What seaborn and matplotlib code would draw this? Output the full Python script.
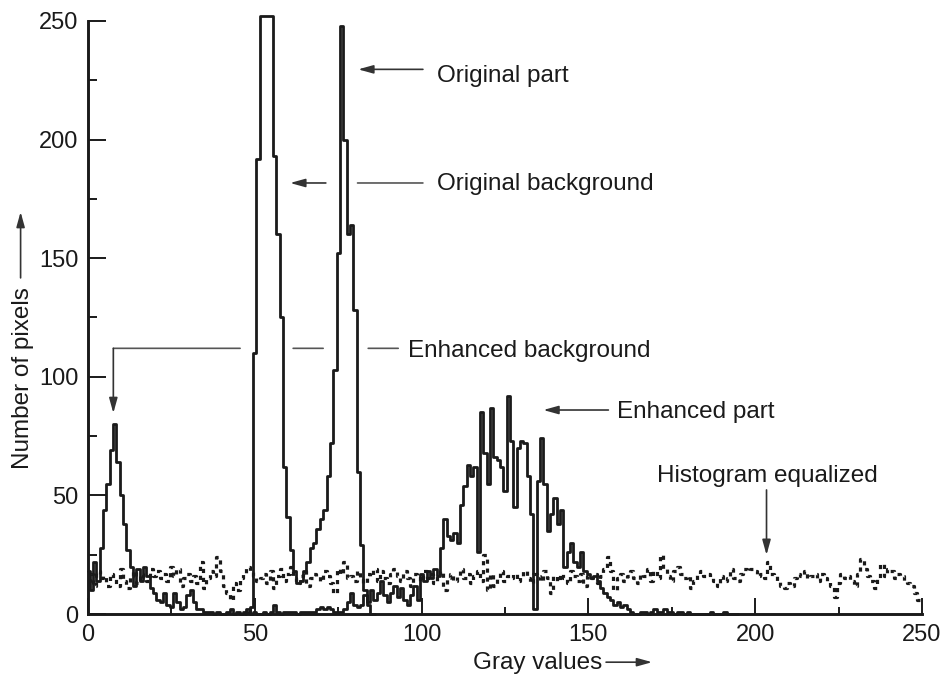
"""
Gray-level histograms: original image vs. enhanced and histogram-equalized.
Values read off the reference figure, one value per gray level.
"""

import numpy as np
import pandas as pd
import matplotlib
matplotlib.use("Agg")
import matplotlib.pyplot as plt
from matplotlib.ticker import MultipleLocator
import seaborn as sns

# --- data -------------------------------------------------------------------
# original histogram (background + part peaks), gray levels 47..86
ORIG_START = 47
orig_counts = [
    0, 1, 3, 110, 192, 252, 252, 252, 252, 193,
    160, 125, 62, 41, 27, 18, 13, 14, 18, 22,
    28, 30, 36, 40, 44, 58, 72, 103, 152, 248,
    200, 160, 164, 128, 60, 29, 10, 4, 0, 0,
]

# contrast-enhanced histogram, gray levels 0..195
ENH_START = 0
enh_counts = [
    18, 10, 22, 14, 28, 44, 55, 69, 80, 64,        # 0-9
    50, 38, 27, 20, 12, 19, 14, 20, 16, 11,        # 10-19
    9, 6, 5, 9, 4, 3, 9, 5, 2, 3,                  # 20-29
    8, 10, 5, 2, 2, 1, 1, 1, 0, 1,                 # 30-39
    0, 0, 1, 2, 0, 1, 0, 1, 2, 0,                  # 40-49
    1, 0, 0, 1, 0, 1, 4, 1, 0, 1,                  # 50-59
    1, 1, 1, 0, 1, 1, 1, 1, 1, 2,                  # 60-69
    3, 2, 3, 2, 1, 1, 1, 2, 5, 9,                  # 70-79
    4, 3, 4, 8, 5, 10, 6, 9, 14, 8,                # 80-89
    5, 9, 12, 7, 11, 6, 4, 8, 12, 6,               # 90-99
    17, 14, 18, 15, 19, 16, 28, 40, 33, 31,        # 100-109
    34, 30, 46, 54, 63, 58, 62, 26, 85, 68,        # 110-119
    55, 87, 66, 65, 62, 52, 92, 73, 45, 70,        # 120-129
    73, 72, 58, 42, 2, 56, 74, 55, 35, 42,         # 130-139
    49, 38, 44, 20, 26, 30, 22, 20, 26, 18,        # 140-149
    17, 15, 16, 14, 11, 9, 7, 6, 4, 5,             # 150-159
    3, 4, 2, 1, 0, 0, 1, 1, 0, 1,                  # 160-169
    2, 1, 1, 2, 1, 1, 0, 1, 1, 0,                  # 170-179
    1, 0, 0, 0, 0, 0, 0, 1, 0, 0,                  # 180-189
    0, 1, 0, 0, 0, 0,                              # 190-195
]

# histogram-equalized result, gray levels 0..250
EQ_START = 0
eq_counts = [
    14, 17, 12, 18, 15, 16, 12, 17, 15, 12,        # 0-9
    19, 14, 11, 16, 18, 13, 17, 15, 14, 19,        # 10-19
    16, 18, 15, 17, 14, 20, 16, 19, 12, 15,        # 20-29
    17, 14, 16, 13, 22, 11, 15, 18, 16, 24,        # 30-39
    18, 12, 9, 6, 13, 10, 15, 17, 20, 18,          # 40-49
    16, 14, 15, 17, 13, 18, 11, 16, 19, 14,        # 50-59
    17, 20, 15, 13, 16, 18, 12, 15, 17, 16,        # 60-69
    14, 18, 16, 13, 9, 19, 17, 22, 15, 16,         # 70-79
    14, 18, 15, 13, 17, 16, 19, 14, 18, 15,        # 80-89
    13, 17, 19, 16, 14, 18, 15, 12, 17, 16,        # 90-99
    14, 18, 15, 17, 13, 16, 18, 10, 15, 17,        # 100-109
    14, 16, 19, 15, 17, 13, 16, 18, 14, 25,        # 110-119
    10, 17, 12, 15, 18, 14, 16, 15, 17, 14,        # 120-129
    16, 18, 15, 13, 17, 16, 14, 18, 15, 9,         # 130-139
    16, 14, 17, 15, 13, 18, 16, 14, 17, 12,        # 140-149
    16, 15, 17, 13, 16, 19, 24, 18, 10, 15,        # 150-159
    17, 14, 16, 18, 15, 13, 17, 16, 19, 14,        # 160-169
    18, 15, 25, 19, 16, 14, 18, 20, 17, 15,        # 170-179
    16, 11, 14, 17, 18, 16, 17, 15, 14, 12,        # 180-189
    16, 14, 15, 19, 15, 14, 17, 19, 18, 19,        # 190-199
    18, 16, 17, 15, 22, 17, 16, 14, 12, 11,        # 200-209
    13, 12, 15, 17, 16, 18, 15, 16, 17, 14,        # 210-219
    17, 15, 14, 12, 7, 13, 17, 15, 16, 14,         # 220-229
    12, 17, 23, 19, 16, 14, 11, 15, 21, 16,        # 230-239
    19, 18, 15, 17, 16, 14, 13, 12, 9, 6,          # 240-249
    5,                                             # 250
]

X_TICKS = [0, 50, 100, 150, 200, 250]
Y_TICKS = [0, 50, 100, 150, 200, 250]


def series(start, counts):
    return pd.DataFrame({
        "gray": np.arange(start, start + len(counts)),
        "count": counts,
    })


def main():
    sns.set_style("ticks")
    plt.rcParams["font.family"] = ["Liberation Sans", "DejaVu Sans"]

    ink = "#1a1a1a"
    fig = plt.figure(figsize=(9.43, 6.84), dpi=100)
    ax = fig.add_axes([0.0933, 0.1023, 0.8844, 0.8844])

    sns.lineplot(data=series(EQ_START, eq_counts), x="gray", y="count", ax=ax,
                 color=ink, lw=2.3, drawstyle="steps-mid",
                 linestyle=(0, (1.3, 1.5)), clip_on=False)
    sns.lineplot(data=series(ENH_START, enh_counts), x="gray", y="count", ax=ax,
                 color=ink, lw=2.0, drawstyle="steps-mid", clip_on=False)
    sns.lineplot(data=series(ORIG_START, orig_counts), x="gray", y="count", ax=ax,
                 color=ink, lw=2.0, drawstyle="steps-mid", clip_on=False)

    ax.set_xlim(0, 250)
    ax.set_ylim(0, 255)
    sns.despine(ax=ax)
    ax.spines["left"].set_bounds(0, 250)
    ax.spines["bottom"].set_bounds(0, 250)
    for side in ("left", "bottom"):
        ax.spines[side].set_linewidth(2.1)
        ax.spines[side].set_color(ink)

    ax.set_xticks(X_TICKS)
    ax.set_yticks(Y_TICKS)
    ax.xaxis.set_minor_locator(MultipleLocator(25))
    ax.yaxis.set_minor_locator(MultipleLocator(25))
    ax.tick_params(which="both", direction="in", width=1.4, color=ink,
                   labelsize=17, labelcolor=ink)
    ax.tick_params(axis="x", which="major", length=11.5, pad=7)
    ax.tick_params(axis="x", which="minor", length=5)
    ax.tick_params(axis="y", which="major", length=13, pad=7)
    ax.tick_params(axis="y", which="minor", length=6.5)
    ax.set_xlabel("")
    ax.set_ylabel("")

    txt = dict(fontsize=17.5, color=ink, va="baseline", ha="left")
    arrow = dict(arrowstyle="-|>,head_length=0.9,head_width=0.25",
                 mutation_scale=10, color="#333333", lw=1.2,
                 shrinkA=0, shrinkB=0)
    plain = dict(arrowstyle="-", color="#555555", lw=1.2,
                 shrinkA=0, shrinkB=0)

    def leader(tip, tail, props):
        ax.annotate("", xy=tip, xytext=tail, arrowprops=props,
                    annotation_clip=False)

    # original part
    ax.text(104.6, 224.4, "Original part", **txt)
    leader((81.0, 229.6), (100.4, 229.6), arrow)

    # original background (leader broken where it crosses the part peak)
    ax.text(104.6, 178.8, "Original background", **txt)
    leader((60.6, 181.7), (71.3, 181.7), arrow)
    leader((80.8, 181.7), (100.4, 181.7), plain)

    # enhanced background (broken leader, then down to the low peak)
    ax.text(95.9, 108.5, "Enhanced background", **txt)
    leader((84.0, 112.0), (93.0, 112.0), plain)
    leader((61.5, 112.0), (70.5, 112.0), plain)
    leader((7.6, 112.0), (45.6, 112.0), plain)
    leader((7.6, 84.7), (7.6, 112.0), arrow)

    # enhanced part
    ax.text(158.6, 82.5, "Enhanced part", **txt)
    leader((136.5, 86.0), (156.0, 86.0), arrow)

    # histogram equalized
    ax.text(170.6, 55.8, "Histogram equalized", **txt)
    leader((203.4, 24.9), (203.4, 52.3), arrow)

    # axis titles with their arrows
    ax.text(134.9, -20.7, "Gray values", fontsize=17.5, color=ink,
            ha="center", va="center", clip_on=False)
    leader((169.1, -20.3), (155.3, -20.3), arrow)
    ax.text(-19.6, 99.5, "Number of pixels", fontsize=17.5, color=ink,
            ha="center", va="center", rotation=90, clip_on=False)
    leader((-20.2, 169.5), (-20.2, 141.7), arrow)

    fig.savefig("out.png", dpi=100)
    plt.close(fig)


if __name__ == "__main__":
    main()
